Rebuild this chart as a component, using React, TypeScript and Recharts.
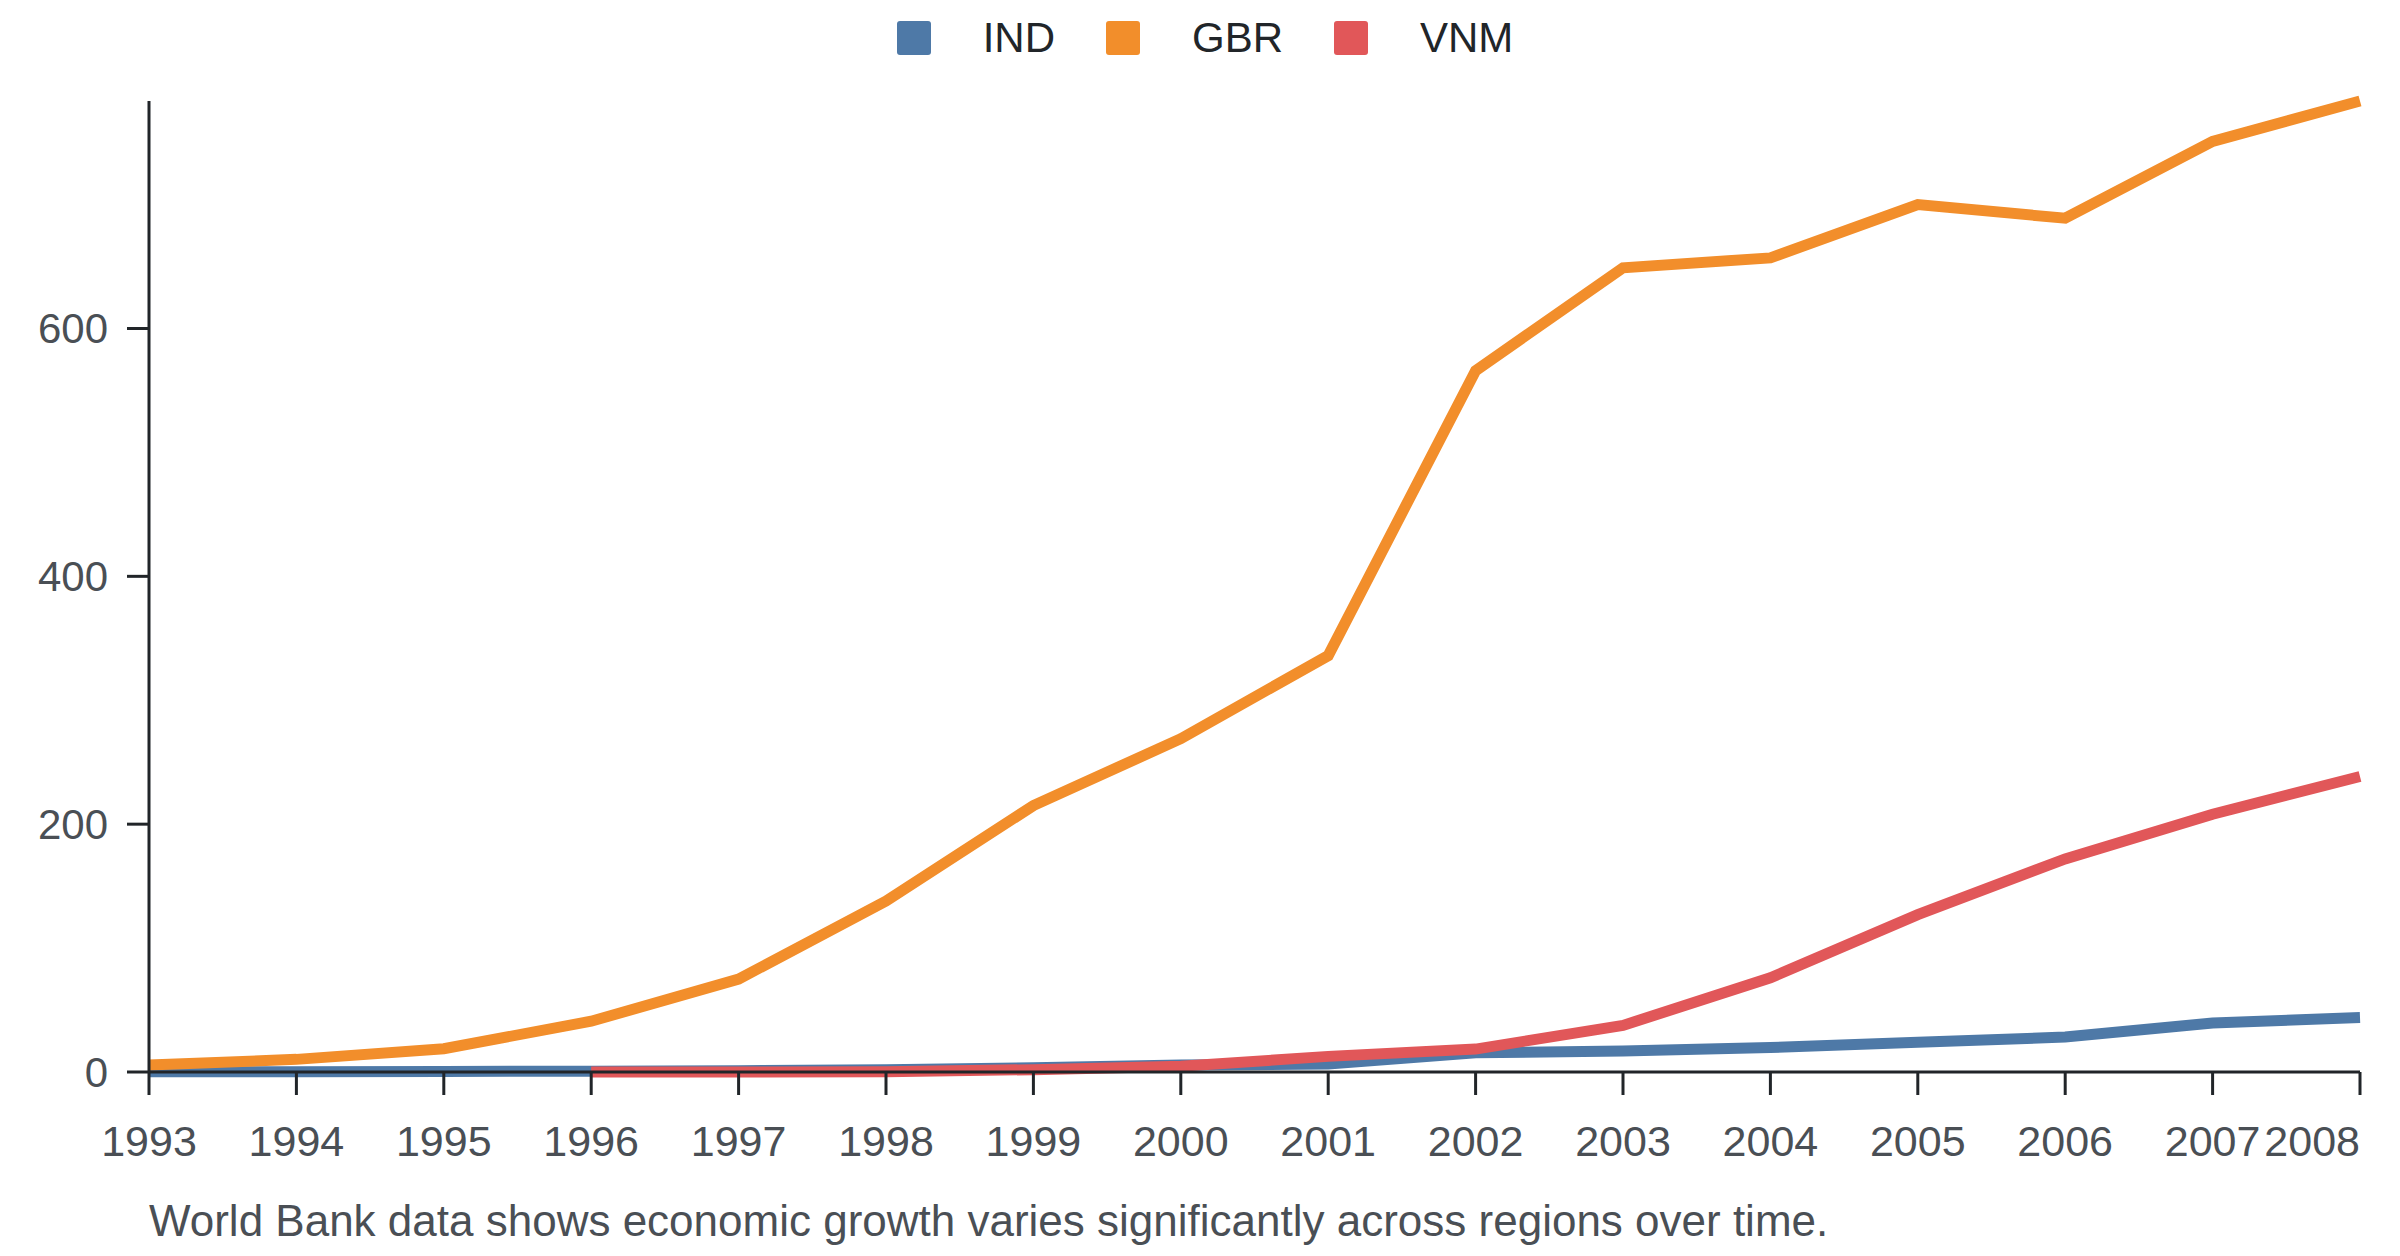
import React from 'react';
import { LineChart, Line, XAxis, YAxis, Legend } from 'recharts';

const years = ['1993', '1994', '1995', '1996', '1997', '1998', '1999', '2000', '2001', '2002', '2003', '2004', '2005', '2006', '2007', '2008'];
const indValues = [0.2, 0.3, 0.5, 0.7, 1.0, 1.8, 3.5, 5.6, 6.4, 15.5, 17, 19.7, 24, 28.2, 39.5, 43.9];
const gbrValues = [5.6, 10.2, 18.8, 41, 75, 138, 215, 269, 336, 566, 649, 657, 700, 689, 751, 783.6];
const vnmValues = [null, null, null, 0, 0, 0.3, 1.9, 4.6, 12.6, 18.5, 37.6, 76, 127, 172, 208, 238.5];
const yTicks = [0, 200, 400, 600];

const seriesNames = ['IND', 'GBR', 'VNM'];
const seriesColors = ['#4e79a7', '#f28e2b', '#e15759'];
const caption = 'World Bank data shows economic growth varies significantly across regions over time.';

const data = years.map((year, i) => ({
  year,
  IND: indValues[i],
  GBR: gbrValues[i],
  VNM: vnmValues[i],
}));

const FONT = '"Liberation Sans", Arial, sans-serif';
const AXIS = '#212529';
const TICK_TEXT = '#4a4f55';

const XTick = (props: any) => {
  const { x, y, payload, index } = props;
  const last = index === years.length - 1;
  return (
    <text x={x} y={y} dy="0.71em" textAnchor={last ? 'end' : 'middle'} fill={TICK_TEXT} fontSize={43} fontFamily={FONT}>
      {payload.value}
    </text>
  );
};

const LegendContent = () => (
  <div
    style={{
      height: 101,
      boxSizing: 'border-box',
      paddingTop: 21,
      paddingLeft: 10,
      display: 'flex',
      justifyContent: 'center',
      alignItems: 'flex-start',
      gap: 51,
      fontFamily: FONT,
    }}
  >
    {seriesNames.map((name, i) => (
      <div key={name} style={{ display: 'flex', alignItems: 'center', height: 34, gap: 52 }}>
        <div style={{ width: 34, height: 34, borderRadius: 3, background: seriesColors[i] }} />
        <span style={{ fontSize: 42, lineHeight: '42px', color: '#212529' }}>{name}</span>
      </div>
    ))}
  </div>
);

export default function App() {
  return (
    <div style={{ position: 'absolute', left: 0, top: 0, width: 2400, height: 1256, background: '#fff', fontFamily: FONT }}>
      <LineChart width={2400} height={1256} data={data} margin={{ top: 0, right: 40, bottom: 84, left: 0 }}>
        <Legend verticalAlign="top" align="center" content={<LegendContent />} wrapperStyle={{ left: 0, width: 2400, top: 0 }} />
        {seriesNames.map((name, i) => (
          <Line
            key={name}
            type="linear"
            dataKey={name}
            stroke={seriesColors[i]}
            strokeWidth={11}
            dot={false}
            activeDot={false}
            isAnimationActive={false}
          />
        ))}
        <XAxis
          dataKey="year"
          height={100}
          interval={0}
          tick={<XTick />}
          tickSize={23}
          tickMargin={30}
          axisLine={{ stroke: AXIS, strokeWidth: 3 }}
          tickLine={{ stroke: AXIS, strokeWidth: 3 }}
        />
        <YAxis
          width={149}
          domain={[0, 'dataMax']}
          ticks={yTicks}
          interval={0}
          tickSize={22}
          tickMargin={19}
          tick={{ fill: TICK_TEXT, fontSize: 42, fontFamily: FONT }}
          axisLine={{ stroke: AXIS, strokeWidth: 3 }}
          tickLine={{ stroke: AXIS, strokeWidth: 3 }}
        />
      </LineChart>
      <div
        style={{
          position: 'absolute',
          left: 149,
          top: 1199,
          fontSize: 44,
          lineHeight: '44px',
          color: TICK_TEXT,
          whiteSpace: 'nowrap',
        }}
      >
        {caption}
      </div>
    </div>
  );
}
